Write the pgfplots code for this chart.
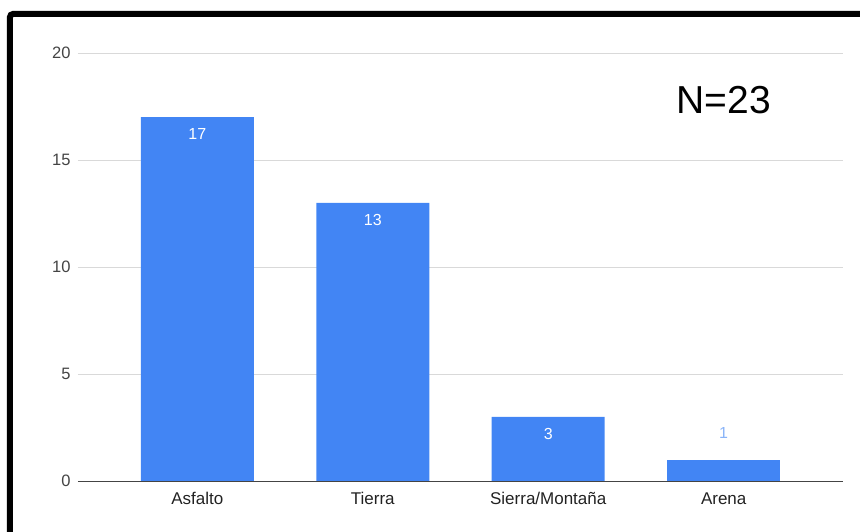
\documentclass[border=0pt]{standalone}
\usepackage{pgfplots}
\pgfplotsset{compat=1.18}
\usepackage{fontspec}
\setmainfont{Liberation Sans}
\definecolor{barblue}{HTML}{4285F4}
\definecolor{lblblue}{HTML}{8AB4F8}
\definecolor{gridgray}{HTML}{D9D9D9}
\definecolor{ticktext}{HTML}{444444}
\definecolor{labeltext}{HTML}{222222}

\begin{document}
\begin{tikzpicture}
  % axis box: lower-left corner at (0,0); image spans (-78,-51) to (782,481)
  \useasboundingbox (-78pt,-51pt) rectangle (782pt,481pt);
  \begin{scope}
    \clip (-78pt,-51pt) rectangle (782pt,481pt);
    \draw[line width=6pt, rounded corners=3pt] (-68pt,-80pt) -- (-68pt,467pt) -- (820pt,467pt);
  \end{scope}

  \begin{axis}[
      scale only axis,
      width=765pt, height=428pt,
      ybar, bar width=113pt, bar shift=0pt,
      xmin=-0.68, xmax=3.68,
      ymin=0, ymax=20,
      xtick={0,1,2,3},
      xticklabels={Asfalto, Tierra, Sierra/Montaña, Arena},
      ytick={0,5,10,15,20},
      ymajorgrids,
      major grid style={gridgray, line width=0.8pt},
      axis x line*=bottom,
      axis y line*=left,
      y axis line style={draw=none},
      x axis line style={draw=ticktext, line width=0.8pt, -},
      major tick length=0pt,
      yticklabel style={ticktext, xshift=-4pt, font=\fontsize{16.5}{18}\selectfont},
      xticklabel style={labeltext, yshift=-8pt, font=\fontsize{17}{19}\selectfont},
      /pgf/number format/assume math mode=true,
      clip=false,
    ]
    \addplot[fill=barblue, draw=none,
        nodes near coords,
        every node near coord/.append style={anchor=north, yshift=-11pt,
          inner sep=0pt, white, font=\fontsize{16}{18}\selectfont}]
      coordinates {(0,17) (1,13) (2,3)};

    \addplot[fill=barblue, draw=none,
        nodes near coords,
        every node near coord/.append style={anchor=south, yshift=21pt,
          inner sep=0pt, lblblue, font=\fontsize{16}{18}\selectfont}]
      coordinates {(3,1)};

    \node[font=\fontsize{39}{44}\selectfont, text=black] at (axis cs:3,17.8) {N=23};
  \end{axis}
\end{tikzpicture}
\end{document}
